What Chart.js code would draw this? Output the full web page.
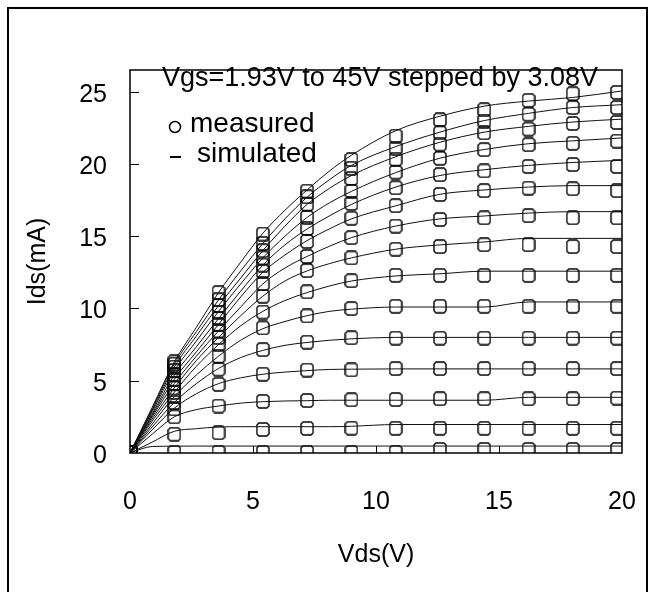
<!DOCTYPE html>
<html>
<head>
<meta charset="UTF-8">
<script src="https://cdn.jsdelivr.net/npm/chart.js@4/dist/chart.umd.min.js"></script>
<style>
body{margin:0;background:#fff}
canvas{display:block}
</style>
</head>
<body>
<canvas id="iv" width="655" height="592"></canvas>
<script>
// Vds where measured points were taken, and the grid of the simulated curves
var vdsMeas = [0.05, 1.8, 3.6, 5.4, 7.2, 9.0, 10.8, 12.6, 14.4, 16.2, 18.0, 19.8];
var vdsSim  = [0, 0.9, 1.8, 2.7, 3.6, 4.5, 5.4, 6.3, 7.2, 8.1, 9.0, 10.8, 12.6, 14.4, 16.2, 18.0, 20];

// measured Ids (mA), one array per Vgs step (1.93V ... 45V)
var meas1  = [0.05, 0.05, 0.05, 0.05, 0.05, 0.05, 0.05, 0.25, 0.25, 0.25, 0.25, 0.25];
var meas2  = [0.05, 1.3, 1.4, 1.63, 1.7, 1.72, 1.71, 1.71, 1.71, 1.71, 1.71, 1.71];
var meas3  = [0.05, 2.5, 3.25, 3.57, 3.63, 3.68, 3.7, 3.75, 3.75, 3.75, 3.75, 3.8];
var meas4  = [0.05, 3.05, 4.75, 5.45, 5.74, 5.75, 5.84, 5.84, 5.84, 5.84, 5.84, 5.84];
var meas5  = [0.05, 3.5, 5.8, 7.15, 7.67, 7.97, 7.95, 7.95, 7.95, 7.95, 7.95, 7.95];
var meas6  = [0.05, 3.9, 6.7, 8.65, 9.48, 9.99, 10.15, 10.15, 10.15, 10.15, 10.15, 10.15];
var meas7  = [0.05, 4.2, 7.5, 9.75, 11.15, 11.92, 12.29, 12.29, 12.29, 12.29, 12.29, 12.29];
var meas8  = [0.05, 4.5, 8.0, 10.85, 12.62, 13.5, 14.1, 14.28, 14.41, 14.41, 14.28, 14.28];
var meas9  = [0.05, 4.8, 8.45, 11.7, 13.6, 14.9, 15.7, 16.16, 16.27, 16.42, 16.27, 16.27];
var meas10 = [0.05, 5.1, 8.9, 12.55, 14.64, 16.24, 17.11, 17.89, 18.15, 18.33, 18.28, 18.15];
var meas11 = [0.05, 5.4, 9.3, 13.0, 15.54, 17.27, 18.35, 19.26, 19.52, 19.83, 19.96, 19.83];
var meas12 = [0.05, 5.7, 9.75, 13.5, 16.31, 18.12, 19.43, 20.39, 20.99, 21.33, 21.43, 21.58];
var meas13 = [0.05, 5.95, 10.2, 14.0, 17.22, 19.0, 20.33, 21.37, 22.15, 22.41, 22.8, 22.87];
var meas14 = [0.05, 6.15, 10.6, 14.5, 17.73, 19.7, 21.1, 22.15, 22.97, 23.44, 23.9, 23.9];
var meas15 = [0.05, 6.3, 11.1, 15.15, 18.12, 20.3, 21.93, 23.05, 23.75, 24.4, 24.86, 24.95];

// simulated Ids (mA)
var sim1  = [0, 0.45, 0.47, 0.48, 0.48, 0.48, 0.48, 0.48, 0.48, 0.48, 0.48, 0.48, 0.48, 0.48, 0.48, 0.48, 0.48];
var sim2  = [0, 0.75, 1.5, 1.68, 1.8, 1.82, 1.82, 1.82, 1.82, 1.82, 1.85, 1.97, 1.97, 1.97, 1.97, 1.97, 1.97];
var sim3  = [0, 1.3, 2.5, 3.0, 3.25, 3.45, 3.55, 3.6, 3.62, 3.65, 3.65, 3.65, 3.65, 3.65, 3.85, 3.85, 3.85];
var sim4  = [0, 1.6, 3.1, 4.1, 4.8, 5.2, 5.45, 5.6, 5.7, 5.78, 5.8, 5.82, 5.82, 5.82, 5.82, 5.82, 5.82];
var sim5  = [0, 1.8, 3.5, 4.8, 5.85, 6.6, 7.1, 7.45, 7.65, 7.8, 7.9, 8.0, 8.0, 8.0, 8.0, 8.0, 8.0];
var sim6  = [0, 2.0, 3.9, 5.4, 6.7, 7.8, 8.6, 9.1, 9.5, 9.8, 9.95, 10.1, 10.1, 10.1, 10.45, 10.45, 10.45];
var sim7  = [0, 2.2, 4.2, 6.0, 7.5, 8.8, 9.8, 10.55, 11.1, 11.55, 11.9, 12.25, 12.4, 12.58, 12.58, 12.58, 12.58];
var sim8  = [0, 2.35, 4.5, 6.4, 8.0, 9.5, 10.85, 11.9, 12.6, 13.1, 13.5, 14.1, 14.4, 14.6, 14.85, 14.85, 14.85];
var sim9  = [0, 2.5, 4.8, 6.7, 8.45, 10.1, 11.7, 12.8, 13.6, 14.3, 14.9, 15.7, 16.2, 16.4, 16.6, 16.7, 16.7];
var sim10 = [0, 2.6, 5.1, 7.0, 8.9, 10.8, 12.5, 13.7, 14.7, 15.5, 16.2, 17.1, 17.9, 18.2, 18.4, 18.5, 18.5];
var sim11 = [0, 2.7, 5.4, 7.35, 9.3, 11.2, 13.0, 14.4, 15.5, 16.4, 17.2, 18.4, 19.2, 19.6, 19.9, 20.1, 20.25];
var sim12 = [0, 2.85, 5.7, 7.75, 9.8, 11.7, 13.5, 15.0, 16.3, 17.3, 18.1, 19.4, 20.4, 21.0, 21.4, 21.6, 21.8];
var sim13 = [0, 2.95, 5.95, 8.1, 10.2, 12.1, 14.0, 15.7, 17.2, 18.3, 19.2, 20.5, 21.5, 22.2, 22.6, 22.9, 23.1];
var sim14 = [0, 3.05, 6.15, 8.4, 10.6, 12.6, 14.5, 16.2, 17.7, 18.9, 19.9, 21.2, 22.2, 23.0, 23.5, 23.9, 24.1];
var sim15 = [0, 3.15, 6.3, 8.7, 11.1, 13.2, 15.2, 16.8, 18.2, 19.5, 20.6, 22.3, 23.3, 24.0, 24.35, 24.6, 25.05];

var xTicks = [5, 10, 15];
var yTicks = [5, 10, 15, 20, 25];
var titleText = 'Vgs=1.93V to 45V stepped by 3.08V';

var measured  = [meas1, meas2, meas3, meas4, meas5, meas6, meas7, meas8, meas9, meas10, meas11, meas12, meas13, meas14, meas15];
var simulated = [sim1, sim2, sim3, sim4, sim5, sim6, sim7, sim8, sim9, sim10, sim11, sim12, sim13, sim14, sim15];

var FONT = '"Liberation Sans", Arial, sans-serif';

// hollow marker: square with clipped corners
var mark = document.createElement('canvas');
mark.width = 14; mark.height = 15;
(function (c) {
  c.strokeStyle = '#000';
  c.lineWidth = 1.4;
  var l = 1, t = 1, r = 13, b = 14, k = 2;
  c.beginPath();
  c.moveTo(l + k, t); c.lineTo(r - k, t); c.lineTo(r, t + k); c.lineTo(r, b - k);
  c.lineTo(r - k, b); c.lineTo(l + k, b); c.lineTo(l, b - k); c.lineTo(l, t + k);
  c.closePath();
  c.stroke();
})(mark.getContext('2d'));

function pts(xs, ys) {
  return ys.map(function (v, i) { return {x: xs[i], y: v}; });
}

var datasets = [];
simulated.forEach(function (s) {
  datasets.push({
    data: pts(vdsSim, s), showLine: true, borderColor: '#111', borderWidth: 1,
    pointRadius: 0, cubicInterpolationMode: 'monotone', fill: false
  });
});
measured.forEach(function (m) {
  datasets.push({
    data: pts(vdsMeas, m), showLine: false, pointStyle: mark, pointRadius: 7,
    borderColor: '#000', backgroundColor: 'transparent'
  });
});

var decor = {
  id: 'decor',
  beforeDraw: function (chart) {
    var ctx = chart.ctx;
    ctx.save();
    ctx.fillStyle = '#fff';
    ctx.fillRect(0, 0, chart.width, chart.height);
    ctx.restore();
  },
  afterDraw: function (chart) {
    var ctx = chart.ctx, a = chart.chartArea, xs = chart.scales.x, ys = chart.scales.y;
    ctx.save();
    ctx.strokeStyle = '#000';
    ctx.lineWidth = 1.5;
    ctx.strokeRect(a.left, a.top, a.right - a.left, a.bottom - a.top);

    // inward tick marks
    ctx.lineWidth = 1;
    ctx.beginPath();
    yTicks.forEach(function (v) {
      var p = Math.round(ys.getPixelForValue(v)) + 0.5;
      ctx.moveTo(a.left, p); ctx.lineTo(a.left + 9, p);
    });
    xTicks.forEach(function (v) {
      var p = Math.round(xs.getPixelForValue(v)) + 0.5;
      ctx.moveTo(p, a.bottom); ctx.lineTo(p, a.bottom - 7);
    });
    ctx.stroke();

    // title inside the plot
    ctx.fillStyle = '#000';
    ctx.textBaseline = 'alphabetic';
    ctx.textAlign = 'left';
    ctx.font = '27px ' + FONT;
    ctx.fillText(titleText, 162, 86);

    // legend
    ctx.font = '28px ' + FONT;
    ctx.lineWidth = 1.5;
    ctx.beginPath();
    ctx.arc(175, 127, 5.5, 0, Math.PI * 2);
    ctx.stroke();
    ctx.fillText('measured', 190, 132);
    ctx.lineWidth = 2;
    ctx.beginPath();
    ctx.moveTo(170, 157); ctx.lineTo(181, 157);
    ctx.stroke();
    ctx.fillText('simulated', 197, 162);

    // outer border
    ctx.lineWidth = 2;
    ctx.beginPath();
    ctx.moveTo(8, 592); ctx.lineTo(8, 8); ctx.lineTo(647, 8); ctx.lineTo(647, 592);
    ctx.stroke();
    ctx.restore();
  }
};

new Chart(document.getElementById('iv'), {
  type: 'scatter',
  data: {datasets: datasets},
  plugins: [decor],
  options: {
    responsive: false,
    animation: false,
    devicePixelRatio: 1,
    layout: {padding: {left: 0, top: 70, right: 33, bottom: 0}},
    plugins: {legend: {display: false}, tooltip: {enabled: false}, title: {display: false}},
    scales: {
      x: {
        type: 'linear', min: 0, max: 20,
        afterFit: function (s) { s.height = 139; s.paddingLeft = 0; s.paddingRight = 0; },
        grid: {display: false, drawTicks: false},
        border: {display: false},
        ticks: {stepSize: 5, color: '#000', padding: 34, font: {family: FONT, size: 25}},
        title: {display: true, text: 'Vds(V)', color: '#000', font: {family: FONT, size: 25}, padding: {top: 0, bottom: 22}}
      },
      y: {
        type: 'linear', min: 0, max: 26.5,
        afterFit: function (s) { s.width = 130; s.paddingTop = 0; s.paddingBottom = 0; },
        grid: {display: false, drawTicks: false},
        border: {display: false},
        ticks: {stepSize: 5, includeBounds: false, color: '#000', padding: 23, labelOffset: 3, font: {family: FONT, size: 25}},
        title: {display: true, text: 'Ids(mA)', color: '#000', font: {family: FONT, size: 25}, padding: {top: 23, bottom: 0}}
      }
    }
  }
});
</script>
</body>
</html>
